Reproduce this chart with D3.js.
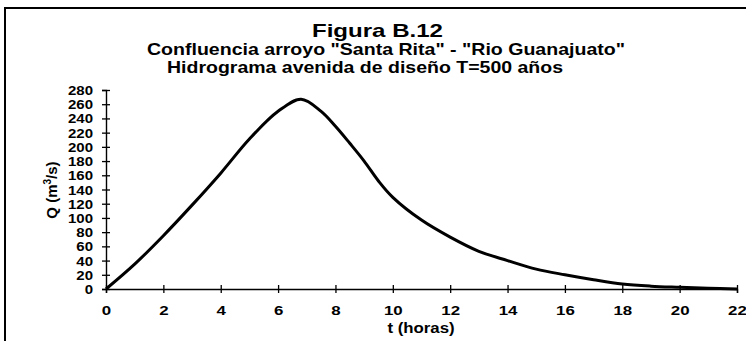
<!DOCTYPE html>
<html>
<head>
<meta charset="utf-8">
<script src="https://cdn.jsdelivr.net/npm/d3@7"></script>
<style>
  html, body { margin: 0; padding: 0; background: #fff; }
  svg { display: block; }
  text { font-family: "Liberation Sans", Arial, sans-serif; font-weight: bold; fill: #000; }
</style>
</head>
<body>
<svg id="chart" width="746" height="341"></svg>
<script>
// Hidrograma de la avenida de diseño, T = 500 años
const tiempo = [0, 1, 2, 3, 4, 5, 6, 6.8, 7.5, 8, 8.5, 9, 9.5, 10, 11, 12, 13, 14, 15, 16, 17, 18, 19, 20, 21, 22];
const caudal = [0, 35, 75, 118, 163, 211, 250, 267, 250, 229, 205, 180, 152, 129, 97, 73, 53, 40, 28, 20, 13, 7, 4, 2.4, 1, 0];
const xTicks = [0, 2, 4, 6, 8, 10, 12, 14, 16, 18, 20, 22];
const yTicks = [0, 20, 40, 60, 80, 100, 120, 140, 160, 180, 200, 220, 240, 260, 280];
const titulos = [
  "Figura B.12",
  "Confluencia arroyo \"Santa Rita\" - \"Rio Guanajuato\"",
  "Hidrograma avenida de diseño T=500 años"
];

const svg = d3.select("#chart");
const x = d3.scaleLinear().domain([0, 22]).range([106, 737]);
const y = d3.scaleLinear().domain([0, 280]).range([289, 90]);

// widen text horizontally (wide bold lettering)
function stretch(sel, k) {
  sel.each(function () {
    const n = this.getComputedTextLength();
    d3.select(this).attr("textLength", n * k).attr("lengthAdjust", "spacingAndGlyphs");
  });
}

// frame
svg.append("path")
  .attr("d", "M5,341 V8 H746")
  .attr("fill", "none").attr("stroke", "#000").attr("stroke-width", 2);

// titles
const tSpec = [
  { x0: 312, x1: 443, base: 37, size: 19 },
  { x0: 147, x1: 625, base: 55, size: 16.5 },
  { x0: 167, x1: 563, base: 73, size: 16.5 }
];
titulos.forEach((t, i) => {
  const s = tSpec[i];
  svg.append("text")
    .attr("x", s.x0).attr("y", s.base)
    .attr("font-size", s.size)
    .attr("textLength", s.x1 - s.x0)
    .attr("lengthAdjust", "spacingAndGlyphs")
    .text(t);
});

// x axis
const gx = svg.append("g")
  .attr("transform", `translate(0,${y(0)})`)
  .call(d3.axisBottom(x).tickValues(xTicks).tickSizeOuter(0).tickSize(4).tickFormat(d3.format("d")));
gx.select(".domain").attr("stroke", "#000").attr("stroke-width", 1.4);
gx.selectAll(".tick line").attr("y1", -4).attr("y2", 4).attr("stroke", "#000").attr("stroke-width", 1.3);
gx.selectAll(".tick text")
  .attr("y", 26).attr("dy", 0)
  .attr("font-size", 13.5).attr("font-family", null)
  .call(stretch, 1.25);

// y axis
const gy = svg.append("g")
  .attr("transform", `translate(${x(0)},0)`)
  .call(d3.axisLeft(y).tickValues(yTicks).tickSizeOuter(0).tickSize(4).tickFormat(d3.format("d")));
gy.select(".domain").attr("stroke", "#000").attr("stroke-width", 1.4);
gy.selectAll(".tick line").attr("x1", -4).attr("x2", 4).attr("stroke", "#000").attr("stroke-width", 1.3);
gy.selectAll(".tick text")
  .attr("x", -13).attr("dy", "0.36em")
  .attr("font-size", 12.5).attr("font-family", null)
  .call(stretch, 1.2);
svg.selectAll(".tick text").style("font-weight", "bold").attr("fill", "#000");

// axis titles
svg.append("text")
  .attr("x", 421).attr("y", 333)
  .attr("text-anchor", "middle")
  .attr("font-size", 14)
  .text("t (horas)")
  .call(stretch, 1.2);

const yl = svg.append("text")
  .attr("transform", "translate(57,190) rotate(-90)")
  .attr("text-anchor", "middle")
  .attr("font-size", 15);
yl.append("tspan").text("Q (m");
yl.append("tspan").attr("dy", -6).attr("font-size", 10).text("3");
yl.append("tspan").attr("dy", 6).text("/s)");

// hydrograph
const line = d3.line()
  .x((d, i) => x(tiempo[i]))
  .y(d => y(d))
  .curve(d3.curveCatmullRom.alpha(0.5));
svg.append("path")
  .datum(caudal)
  .attr("d", line)
  .attr("fill", "none")
  .attr("stroke", "#000")
  .attr("stroke-width", 3)
  .attr("stroke-linejoin", "round");
</script>
</body>
</html>
